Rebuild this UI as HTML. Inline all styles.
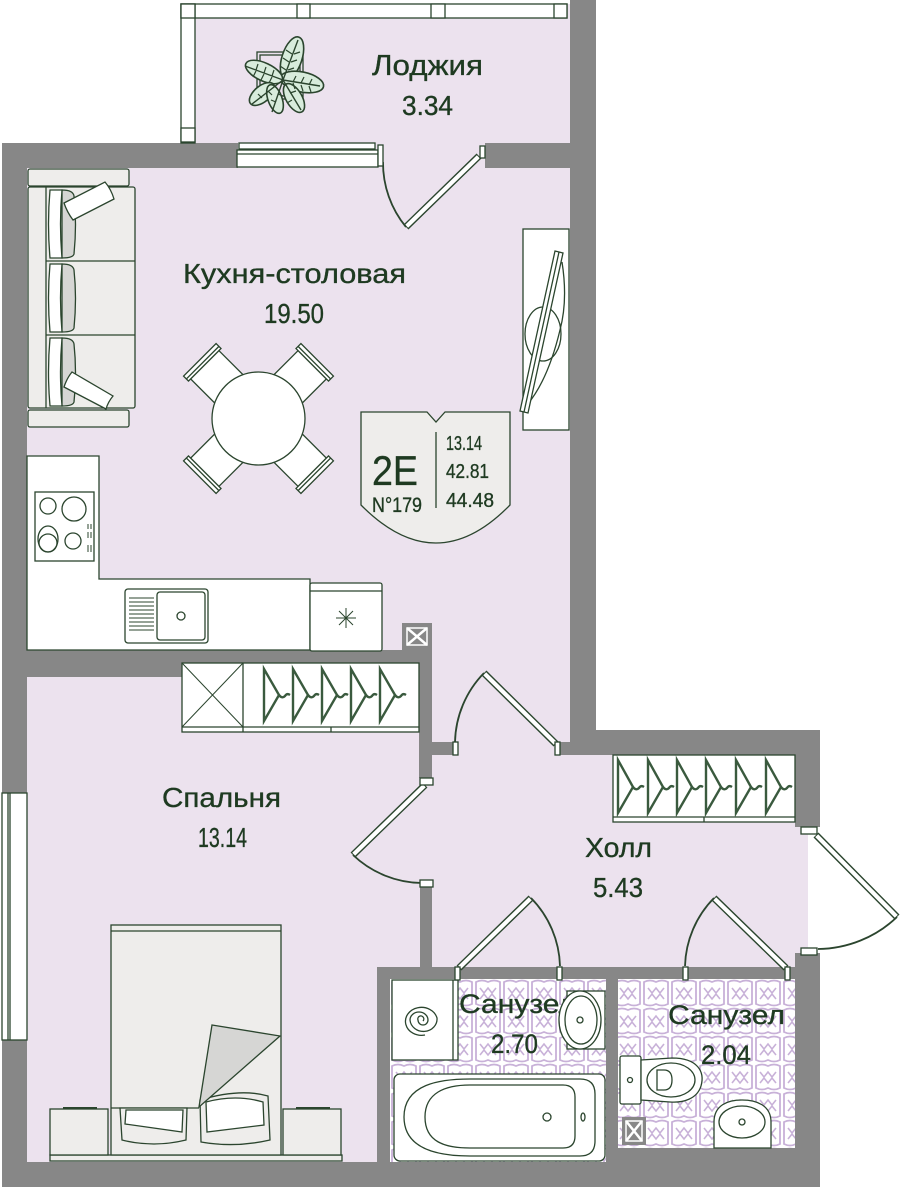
<!DOCTYPE html>
<html><head><meta charset="utf-8"><style>
html,body{margin:0;padding:0;background:#fff;}
svg{display:block;}
text{font-family:"Liberation Sans","DejaVu Sans",sans-serif;fill:#1e3a21;stroke:none;}
text.lbl{stroke:#1e3a21;stroke-width:0.35;}
</style></head><body>
<svg width="902" height="1188" viewBox="0 0 902 1188" xmlns="http://www.w3.org/2000/svg">
<defs>
<pattern id="tile" width="28" height="28" patternUnits="userSpaceOnUse" x="390" y="979">
<rect width="28" height="28" fill="#fff"/>
<path d="M2,3 q6,-3 12,0 q6,-3 12,0 v22 q-6,3 -12,0 q-6,3 -12,0 z" fill="none" stroke="#c8b1d8" stroke-width="1.8"/>
<path d="M6,9 l4,5 l4,-5 l4,5 l4,-5 M6,20 l4,-5 l4,5 l4,-5 l4,5" fill="none" stroke="#c8b1d8" stroke-width="1.6"/>
</pattern>
</defs>
<g stroke="#2b452e" stroke-width="1.3">
<!-- lavender floors -->
<rect x="181" y="4" width="389" height="139" fill="#ece2ee" stroke="none"/>
<rect x="2" y="143" width="568" height="1044" fill="#ece2ee" stroke="none"/>
<rect x="570" y="755" width="238" height="212" fill="#ece2ee" stroke="none"/>
<rect x="390" y="979" width="216" height="183" fill="url(#tile)" stroke="none"/>
<rect x="618" y="979" width="177" height="169" fill="url(#tile)" stroke="none"/>

<!-- walls -->
<g fill="#878787" stroke="none">
<rect x="2" y="143" width="25" height="1044"/>
<rect x="2" y="143" width="236" height="25"/>
<rect x="485" y="143" width="85" height="25"/>
<rect x="570" y="0" width="26" height="755"/>
<rect x="570" y="730" width="250" height="25"/>
<rect x="795" y="730" width="25" height="97"/>
<rect x="795" y="953" width="25" height="234"/>
<rect x="2" y="1162" width="818" height="25"/>
<rect x="27" y="650" width="155" height="27"/>
<rect x="182" y="650" width="250" height="13"/>
<rect x="419" y="623" width="13" height="155"/>
<rect x="432" y="742" width="21" height="13"/>
<rect x="558" y="742" width="12" height="13"/>
<rect x="420" y="885" width="12" height="82"/>
<rect x="377" y="967" width="418" height="12"/>
<rect x="377" y="967" width="13" height="220"/>
<rect x="606" y="979" width="12" height="183"/>
<rect x="618" y="1148" width="177" height="14"/>
</g>
<!-- vents -->
<rect x="402" y="623" width="30" height="27" fill="#878787" stroke="none"/>
<rect x="407" y="628" width="20" height="17" fill="none" stroke="#fff" stroke-width="1.5"/>
<path d="M407,628 L427,645 M427,628 L407,645" stroke="#fff" stroke-width="2.5"/>
<rect x="622" y="1117" width="24" height="28" fill="#878787" stroke="none"/>
<rect x="626" y="1121" width="16" height="20" fill="none" stroke="#fff" stroke-width="1.5"/>
<path d="M626,1121 L642,1141 M642,1121 L626,1141" stroke="#fff" stroke-width="2.5"/>

<!-- loggia frame -->
<rect x="181" y="4" width="386" height="14" fill="#fff"/>
<rect x="181" y="4" width="14" height="139" fill="#fff"/>
<rect x="181" y="4" width="14" height="14" fill="#fff"/>
<rect x="297" y="4" width="13" height="14" fill="#fff"/>
<rect x="431" y="4" width="14" height="14" fill="#fff"/>
<rect x="554" y="4" width="13" height="14" fill="#fff"/>
<rect x="181" y="128" width="14" height="14" fill="#fff"/>
<!-- loggia/kitchen window -->
<rect x="239" y="143" width="136" height="6" fill="#fff"/>
<rect x="237" y="150" width="141" height="17" fill="#fff"/>
<line x1="237" y1="154" x2="378" y2="154"/>
<!-- left window -->
<rect x="2" y="793" width="25" height="247" fill="#fff"/>
<line x1="8" y1="793" x2="8" y2="1040"/>
<line x1="10" y1="793" x2="10" y2="1040"/>

<!-- plant -->
<rect x="257" y="52" width="46" height="47" fill="none"/>
<rect x="260" y="55" width="40" height="41" fill="none"/>
<g fill="#d8ecdc" stroke-width="1.6">
<ellipse cx="292" cy="58" rx="22" ry="10" transform="rotate(-72 292 58)"/>
<ellipse cx="302" cy="82" rx="22" ry="10" transform="rotate(12 302 82)"/>
<ellipse cx="264" cy="72" rx="20" ry="9" transform="rotate(25 264 72)"/>
<ellipse cx="262" cy="94" rx="15" ry="8" transform="rotate(-40 262 94)"/>
<ellipse cx="275" cy="99" rx="15" ry="7" transform="rotate(70 275 99)"/>
<ellipse cx="294" cy="98" rx="16" ry="8" transform="rotate(60 294 98)"/>
</g>
<path d="M283,80 L298,40 M283,80 L320,86 M283,80 L245,66 M283,80 L252,104 M283,80 L272,112 M283,80 L301,110" fill="none" stroke-width="1.4"/>
<path d="M286,70 l-6,-4 M289,62 l-6,-4 M292,54 l-6,-4 M288,70 l6,-2 M291,62 l6,-2 M294,54 l6,-2
M293,82 l3,-6 M301,83 l3,-6 M309,85 l3,-6 M293,83 l2,6 M301,85 l2,6 M309,86 l2,6
M272,76 l2,-6 M264,73 l2,-6 M256,70 l2,-6 M272,77 l-3,6 M264,74 l-3,6 M256,71 l-3,6
M276,102 l-5,-2 M278,94 l5,2 M292,100 l-5,3 M290,93 l6,-2 M262,98 l-4,-4 M268,91 l4,4" fill="none" stroke-width="1.2"/>

<!-- sofa -->
<g fill="#eeedeb">
<rect x="28" y="169" width="101" height="17" rx="2"/>
<rect x="28" y="187" width="107" height="221" rx="2"/>
<rect x="28" y="410" width="101" height="17" rx="2"/>
</g>
<line x1="46" y1="187" x2="46" y2="408"/>
<line x1="46" y1="261" x2="135" y2="261"/>
<line x1="46" y1="335" x2="135" y2="335"/>
<g>
<path d="M62,190 Q73,190 74,196 Q77,224 74,254 Q73,258 62,258 Z" fill="#d6d6d4"/>
<path d="M50,190 L62,190 Q59,224 62,258 L50,258 Q47,224 50,190 Z" fill="#fff"/>
<path d="M62,264 Q73,264 74,270 Q77,298 74,328 Q73,332 62,332 Z" fill="#d6d6d4"/>
<path d="M50,264 L62,264 Q59,298 62,332 L50,332 Q47,298 50,264 Z" fill="#fff"/>
<path d="M62,338 Q73,338 74,344 Q77,372 74,402 Q73,406 62,406 Z" fill="#d6d6d4"/>
<path d="M50,338 L62,338 Q59,372 62,406 L50,406 Q47,372 50,338 Z" fill="#fff"/>
<path d="M64,203 L105,182 Q111,189 114,199 L73,220 Q67,212 64,203 Z" fill="#fff"/>
<path d="M72,372 L113,396 Q108,402 106,409 L64,387 Q67,378 72,372 Z" fill="#fff"/>
</g>

<!-- chairs + table -->
<g fill="#fff">
<g transform="translate(258.5 418.5) rotate(-45)"><rect x="-20" y="-76" width="40" height="40"/><rect x="-23" y="-83" width="46" height="7"/><line x1="-23" y1="-79" x2="23" y2="-79"/></g>
<g transform="translate(258.5 418.5) rotate(45)"><rect x="-20" y="-76" width="40" height="40"/><rect x="-23" y="-83" width="46" height="7"/><line x1="-23" y1="-79" x2="23" y2="-79"/></g>
<g transform="translate(258.5 418.5) rotate(135)"><rect x="-20" y="-76" width="40" height="40"/><rect x="-23" y="-83" width="46" height="7"/><line x1="-23" y1="-79" x2="23" y2="-79"/></g>
<g transform="translate(258.5 418.5) rotate(-135)"><rect x="-20" y="-76" width="40" height="40"/><rect x="-23" y="-83" width="46" height="7"/><line x1="-23" y1="-79" x2="23" y2="-79"/></g>
<circle cx="258.5" cy="418.5" r="46.5"/>
</g>

<!-- TV / cabinet right -->
<rect x="523" y="229" width="46" height="201" fill="#fff"/>
<ellipse cx="543" cy="334" rx="18" ry="27" fill="none"/>
<path d="M562,262 Q568,300 560,330 Q548,380 527,405" fill="none"/>
<polygon points="555,251 563,253 528,413 520,411" fill="#fff"/>
<line x1="559" y1="252" x2="524" y2="412"/>

<!-- badge -->
<path d="M361,412 L427,412 L436,422 L445,412 L510,412 L510,505 Q436,581 361,505 Z" fill="#eeedeb"/>
<line x1="436" y1="432" x2="436" y2="508"/>
<text class="lbl" x="372" y="485" font-size="42" textLength="46" lengthAdjust="spacingAndGlyphs">2E</text>
<text class="lbl" x="372" y="512" font-size="21" textLength="50" lengthAdjust="spacingAndGlyphs">N°179</text>
<text class="lbl" x="446" y="450" font-size="20" textLength="36" lengthAdjust="spacingAndGlyphs">13.14</text>
<text class="lbl" x="446" y="478" font-size="20" textLength="43" lengthAdjust="spacingAndGlyphs">42.81</text>
<text class="lbl" x="446" y="507" font-size="20" textLength="48" lengthAdjust="spacingAndGlyphs">44.48</text>

<!-- kitchen counter -->
<path d="M27,456 L99,456 L99,579 L310,579 L310,650 L27,650 Z" fill="#fff"/>
<rect x="35" y="492" width="59" height="69" fill="#fff"/>
<circle cx="48" cy="506" r="8" fill="none"/>
<circle cx="74" cy="509" r="12" fill="none"/>
<ellipse cx="48" cy="539" rx="10" ry="13" fill="none"/>
<circle cx="48" cy="543" r="9" fill="none"/>
<circle cx="73" cy="541" r="8" fill="none"/>
<path d="M88,524 v5 M91,524 v5 M88,532 v6 M91,532 v6 M88,545 v7 M91,545 v7" stroke-width="1"/>
<rect x="125" y="589" width="83" height="54" rx="3" fill="#fff"/>
<rect x="157" y="592" width="48" height="48" rx="3" fill="#fff"/>
<path d="M129,598 H154 M129,602 H154 M129,606 H154 M129,610 H154 M129,614 H154 M129,618 H154 M129,622 H154 M129,626 H154 M129,630 H154" stroke-width="1"/>
<circle cx="181" cy="616" r="4" fill="none"/>
<rect x="310" y="583" width="72" height="68" rx="2" fill="#fff"/>
<line x1="310" y1="591" x2="382" y2="591"/>
<path d="M346,608 v20 M336,618 h20 M339,611 l14,14 M353,611 l-14,14" stroke-width="1"/>

<!-- bedroom wardrobe -->
<rect x="182" y="663" width="237" height="69" fill="#fff"/>
<line x1="243" y1="663" x2="243" y2="732"/>
<line x1="182" y1="727" x2="419" y2="727"/>
<line x1="331" y1="727" x2="331" y2="732"/>
<path d="M182,663 L243,727 M243,663 L182,727" stroke-width="1"/>
<g fill="none" stroke="#3a5a3e" stroke-width="2.4">
<path d="M264,669 V721 L279,695 Z M279,695 q3,4 6,1 q2,-3 5,-1"/>
<path d="M293,669 V721 L308,695 Z M308,695 q3,4 6,1 q2,-3 5,-1"/>
<path d="M322,669 V721 L337,695 Z M337,695 q3,4 6,1 q2,-3 5,-1"/>
<path d="M351,669 V721 L366,695 Z M366,695 q3,4 6,1 q2,-3 5,-1"/>
<path d="M380,669 V721 L395,695 Z M395,695 q3,4 6,1 q2,-3 5,-1"/>
</g>

<!-- hall wardrobe -->
<rect x="613" y="755" width="182" height="67" fill="#fff"/>
<line x1="613" y1="817" x2="795" y2="817"/>
<line x1="704" y1="817" x2="704" y2="822"/>
<g fill="none" stroke="#3a5a3e" stroke-width="2.4">
<path d="M618,760 V813 L633,787 Z M633,787 q3,4 6,1 q2,-3 5,-1"/>
<path d="M648,760 V813 L663,787 Z M663,787 q3,4 6,1 q2,-3 5,-1"/>
<path d="M677,760 V813 L692,787 Z M692,787 q3,4 6,1 q2,-3 5,-1"/>
<path d="M706,760 V813 L721,787 Z M721,787 q3,4 6,1 q2,-3 5,-1"/>
<path d="M736,760 V813 L751,787 Z M751,787 q3,4 6,1 q2,-3 5,-1"/>
<path d="M766,760 V813 L781,787 Z M781,787 q3,4 6,1 q2,-3 5,-1"/>
</g>

<!-- bed -->
<rect x="50" y="1155" width="292" height="6" fill="#eeedeb"/>
<rect x="50" y="1109" width="58" height="46" fill="#eeedeb"/>
<line x1="63" y1="1108" x2="97" y2="1108" stroke-width="2"/>
<rect x="283" y="1109" width="58" height="46" fill="#eeedeb"/>
<line x1="296" y1="1108" x2="330" y2="1108" stroke-width="2"/>
<rect x="111" y="925" width="170" height="230" fill="#eeedeb"/>
<line x1="111" y1="931" x2="281" y2="931"/>
<line x1="111" y1="1108" x2="199" y2="1108"/>
<path d="M120,1108 L187,1108 L186,1140 Q154,1148 122,1140 Z" fill="#eeedeb"/>
<path d="M126,1110 L183,1110 L182,1132 L125,1124 Z" fill="#fff"/>
<path d="M200,1100 Q240,1088 268,1096 L270,1140 Q235,1148 201,1142 Z" fill="#eeedeb"/>
<path d="M206,1102 Q236,1094 263,1102 L264,1125 L207,1132 Z" fill="#fff"/>
<polygon points="212,1025 280,1036 199,1107" fill="#d6d6d4"/>

<!-- bathroom 1 -->
<rect x="392" y="980" width="66" height="80" fill="#fff"/>
<line x1="453" y1="980" x2="453" y2="1060"/>
<path d="M425,1035 A16,14 0 1,1 437,1018 A12,11 0 1,1 410,1020 A9,8 0 1,1 428,1020 A5,5 0 1,1 418,1020 A3,3 0 1,1 423,1021" fill="none"/>
<text class="lbl" x="459" y="1013" font-size="27" textLength="117" lengthAdjust="spacingAndGlyphs">Санузел</text>
<rect x="567" y="991" width="38" height="58" fill="#fff"/>
<ellipse cx="580" cy="1020" rx="21" ry="29" fill="#fff"/>
<ellipse cx="581" cy="1020" rx="16" ry="24" fill="none"/>
<circle cx="580" cy="1020" r="3" fill="none"/>
<text class="lbl" x="491" y="1053" font-size="27" textLength="47" lengthAdjust="spacingAndGlyphs">2.70</text>
<rect x="394" y="1074" width="211" height="87" rx="6" fill="#fff"/>
<path d="M404,1117 C404,1084 440,1079 470,1079 L580,1079 Q595,1079 595,1094 L595,1141 Q595,1156 580,1156 L470,1156 C440,1156 404,1150 404,1117 Z" fill="none"/>
<path d="M425,1117 C425,1093 445,1085 470,1085 L563,1085 Q575,1085 575,1097 L575,1136 Q575,1148 563,1148 L470,1148 C445,1148 425,1142 425,1117 Z" fill="none"/>
<circle cx="547" cy="1117" r="4" fill="none"/>
<ellipse cx="583" cy="1117" rx="2" ry="4" fill="none"/>

<!-- bathroom 2 -->
<text class="lbl" x="668" y="1024" font-size="27" textLength="117" lengthAdjust="spacingAndGlyphs">Санузел</text>
<text class="lbl" x="701" y="1064" font-size="27" textLength="50" lengthAdjust="spacingAndGlyphs">2.04</text>
<rect x="620" y="1056" width="21" height="48" rx="2" fill="#fff"/>
<circle cx="630" cy="1080" r="2.5" fill="none"/>
<path d="M641,1060 L672,1058 C698,1058 705,1072 701,1086 C697,1099 683,1103 670,1102 L641,1100 Z" fill="#fff"/>
<ellipse cx="671" cy="1080" rx="24" ry="17" fill="none"/>
<path d="M657,1070 L664,1070 Q672,1070 672,1080 Q672,1090 664,1090 L657,1090 Z" fill="none"/>
<path d="M714,1148 L714,1122 C714,1105 728,1100 742,1100 C756,1100 771,1105 771,1122 L771,1148 Z" fill="#fff"/>
<ellipse cx="742" cy="1122" rx="23" ry="16" fill="none"/>
<circle cx="742" cy="1122" r="3" fill="none"/>

<!-- doors: leaves -->
<g stroke-linecap="butt">
<g stroke="#2b452e" stroke-width="7">
<line x1="479" y1="156" x2="406" y2="227"/>
<line x1="556" y1="744" x2="484" y2="673"/>
<line x1="425" y1="785" x2="353" y2="855"/>
<line x1="459" y1="968" x2="531" y2="898"/>
<line x1="786" y1="968" x2="714" y2="898"/>
<line x1="816" y1="835" x2="897" y2="917"/>
</g>
<g stroke="#fff" stroke-width="4.2">
<line x1="478.3" y1="156.7" x2="406.7" y2="226.3"/>
<line x1="555.3" y1="743.3" x2="484.7" y2="673.7"/>
<line x1="424.3" y1="785.7" x2="353.7" y2="854.3"/>
<line x1="459.7" y1="967.3" x2="530.3" y2="898.7"/>
<line x1="785.3" y1="967.3" x2="714.7" y2="898.7"/>
<line x1="816.7" y1="835.7" x2="896.3" y2="916.3"/>
</g>
</g>
<!-- arcs -->
<g fill="none" stroke-width="1.8">
<path d="M383,162 A101,101 0 0,0 406,227"/>
<path d="M484,673 A102,102 0 0,0 455,742"/>
<path d="M353,855 A102,102 0 0,0 422,883"/>
<path d="M531,898 A101,101 0 0,1 560,966"/>
<path d="M714,898 A101,101 0 0,0 685,966"/>
<path d="M897,917 A116,116 0 0,1 818,949"/>
</g>
<!-- jambs -->
<g fill="#fff">
<rect x="378" y="145" width="5" height="21"/>
<rect x="480" y="146" width="5" height="12"/>
<rect x="453" y="742" width="5" height="13"/>
<rect x="555" y="742" width="5" height="13"/>
<rect x="420" y="778" width="13" height="7"/>
<rect x="420" y="880" width="13" height="7"/>
<rect x="455" y="967" width="5" height="13"/>
<rect x="557" y="967" width="5" height="13"/>
<rect x="683" y="967" width="5" height="13"/>
<rect x="785" y="967" width="5" height="13"/>
<rect x="801" y="827" width="16" height="7"/>
<rect x="801" y="948" width="16" height="7"/>
</g>
</g>

<!-- room labels -->
<text class="lbl" x="372" y="75" font-size="29" textLength="111" lengthAdjust="spacingAndGlyphs">Лоджия</text>
<text class="lbl" x="402" y="115" font-size="28" textLength="51" lengthAdjust="spacingAndGlyphs">3.34</text>
<text class="lbl" x="183" y="283" font-size="28" textLength="223" lengthAdjust="spacingAndGlyphs">Кухня-столовая</text>
<text class="lbl" x="264" y="323" font-size="28" textLength="60" lengthAdjust="spacingAndGlyphs">19.50</text>
<text class="lbl" x="162" y="807" font-size="28" textLength="119" lengthAdjust="spacingAndGlyphs">Спальня</text>
<text class="lbl" x="198" y="847" font-size="28" textLength="49" lengthAdjust="spacingAndGlyphs">13.14</text>
<text class="lbl" x="585" y="857" font-size="28" textLength="67" lengthAdjust="spacingAndGlyphs">Холл</text>
<text class="lbl" x="593" y="897" font-size="28" textLength="50" lengthAdjust="spacingAndGlyphs">5.43</text>
</svg>
</body></html>
